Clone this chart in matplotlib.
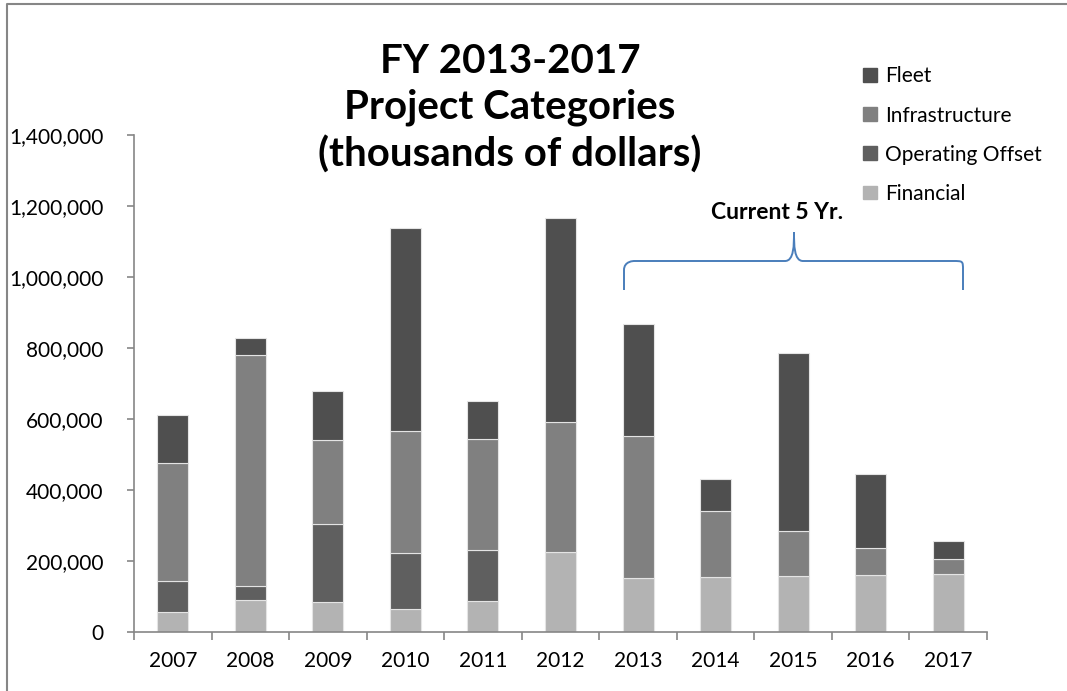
import numpy as np
import matplotlib.pyplot as plt
from matplotlib.path import Path
from matplotlib.patches import PathPatch, Rectangle
from matplotlib.lines import Line2D
from matplotlib.transforms import Affine2D
from matplotlib.ticker import FuncFormatter

plt.rcParams['font.family'] = ['Lato', 'DejaVu Sans']

# --------------------------
# データ (千ドル)
years = ['2007', '2008', '2009', '2010', '2011', '2012',
         '2013', '2014', '2015', '2016', '2017']
financial = [56000, 90000, 84000, 66000, 87000, 225000,
             152000, 155000, 158000, 160000, 163000]
operating_offset = [88000, 40000, 219000, 157000, 144000, 0,
                    0, 0, 0, 0, 0]
infrastructure = [333000, 650000, 238000, 342000, 312000, 367000,
                  400000, 186000, 126000, 77000, 43000]
fleet = [134000, 47000, 138000, 574000, 108000, 573000,
         316000, 91000, 502000, 207000, 51000]

W, H = 1067, 691
fig = plt.figure(figsize=(W / 100, H / 100), dpi=100)
ax = fig.add_axes([134 / W, 1 - 632 / H, (987 - 134) / W, (632 - 135) / H])

# --------------------------
# 積み上げ棒
x = np.arange(len(years))
fin = np.array(financial)
op = np.array(operating_offset)
inf = np.array(infrastructure)
fl = np.array(fleet)
bw = 0.4
edge = dict(edgecolor='#e4e4e4', linewidth=0.8)
ax.bar(x, fin, bw, color='#b3b3b3', **edge)
ax.bar(x, op, bw, bottom=fin, color='#5f5f5f', **edge)
ax.bar(x, inf, bw, bottom=fin + op, color='#808080', **edge)
ax.bar(x, fl, bw, bottom=fin + op + inf, color='#4f4f4f', **edge)

# --------------------------
# 軸
ax.set_xlim(-0.5, len(years) - 0.5)
ax.set_ylim(0, 1400000)
ax.set_yticks(np.arange(0, 1400001, 200000))
ax.yaxis.set_major_formatter(FuncFormatter(lambda v, p: f'{int(v):,}'))
ax.set_xticks(x)
ax.set_xticklabels(years)
ax.set_xticks(np.arange(-0.5, len(years), 1), minor=True)
ax.tick_params(axis='x', which='major', length=0, pad=14, labelsize=15)
ax.tick_params(axis='x', which='minor', length=6, color='#868686', width=1.2)
ax.tick_params(axis='y', length=5, color='#868686', width=1.2, pad=17, labelsize=15)
for s in ['top', 'right']:
    ax.spines[s].set_visible(False)
for s in ['left', 'bottom']:
    ax.spines[s].set_color('#868686')
    ax.spines[s].set_linewidth(1.2)

# --------------------------
# タイトル
fig.text(510 / W, 1 - 108 / H, 'FY 2013-2017\nProject Categories\n(thousands of dollars)',
         ha='center', va='center', fontsize=29, fontweight='bold', linespacing=1.3)

# --------------------------
# 凡例
handles = [Rectangle((0, 0), 1, 1, color=c) for c in ['#4f4f4f', '#808080', '#5f5f5f', '#b3b3b3']]
fig.legend(handles, ['Fleet', 'Infrastructure', 'Operating Offset', 'Financial'],
           loc='upper left', bbox_to_anchor=(855 / W, 1 - 58 / H), frameon=False,
           fontsize=15, handlelength=0.65, handleheight=0.65, handletextpad=0.4,
           labelspacing=0.92, borderaxespad=0)

# --------------------------
# 括弧と注記
px = Affine2D().scale(1 / W, -1 / H).translate(0, 1) + fig.transFigure
verts = [(624, 290), (624, 270),
         (624, 261), (634, 261), (634, 261),
         (785, 261),
         (794, 261), (794, 245), (794, 232),
         (794, 245), (794, 261), (803, 261),
         (953, 261),
         (963, 261), (963, 261), (963, 270),
         (963, 290)]
codes = [Path.MOVETO, Path.LINETO,
         Path.CURVE4, Path.CURVE4, Path.CURVE4,
         Path.LINETO,
         Path.CURVE4, Path.CURVE4, Path.CURVE4,
         Path.CURVE4, Path.CURVE4, Path.CURVE4,
         Path.LINETO,
         Path.CURVE4, Path.CURVE4, Path.CURVE4,
         Path.LINETO]
fig.patches.append(PathPatch(Path(verts, codes), transform=px, fill=False,
                             edgecolor='#4a7ebb', linewidth=1.4))
fig.text(777 / W, 1 - 212 / H, 'Current 5 Yr.', ha='center', va='center',
         fontsize=16.5, fontweight='bold')

# 外枠 (上と左のみ見える)
fig.lines.append(Line2D([7, 7, W], [H, 4, 4], transform=px,
                        color='#868686', linewidth=1.5))

fig.savefig('out.png', dpi=100)
